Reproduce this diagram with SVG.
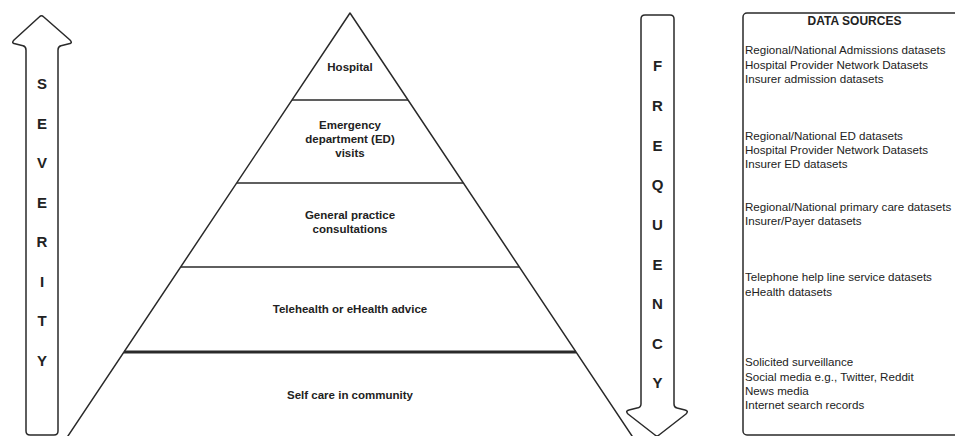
<svg xmlns="http://www.w3.org/2000/svg" width="955" height="436" viewBox="0 0 955 436">
<style>
.shape{fill:none;stroke:#2a2a2a;stroke-width:1.5;stroke-linejoin:round}
.lvl{stroke:#2a2a2a;stroke-width:1.5}
.lbl{font-family:"Liberation Sans",Arial,sans-serif;font-weight:bold;font-size:11.5px;fill:#222;text-anchor:middle}
.big{font-family:"Liberation Sans",Arial,sans-serif;font-weight:bold;font-size:15px;fill:#222;text-anchor:middle}
.src{font-family:"Liberation Sans",Arial,sans-serif;font-size:11.6px;fill:#222}
.hdr{font-family:"Liberation Sans",Arial,sans-serif;font-weight:bold;font-size:12px;fill:#222;text-anchor:middle}
</style>
<rect width="955" height="436" fill="#fff"/>
<g id="severity">
<path class="shape" d="M39.5 16.8 Q41.5 14.5 43.5 16.8 L70 40 Q73 43 69 43.8 L61 45.8 Q58 46.5 58 50 L58 431 Q58 435 54 435 L30 435 Q26 435 26 431 L26 50 Q26 46.5 23 45.8 L15 43.8 Q11 43 14 40 Z"/>
<text class="big" x="42" y="89">S</text>
<text class="big" x="42" y="129">E</text>
<text class="big" x="42" y="168">V</text>
<text class="big" x="42" y="208">E</text>
<text class="big" x="42" y="247">R</text>
<text class="big" x="42" y="287">I</text>
<text class="big" x="42" y="326">T</text>
<text class="big" x="42" y="366">Y</text>
</g>
<g id="pyramid">
<polyline class="shape" points="63.3,443 350,13 636.7,443"/>
</g>
<g id="level-hospital">
<line class="lvl" x1="292" y1="100" x2="408" y2="100"/>
<text class="lbl" x="350" y="71">Hospital</text>
</g>
<g id="level-ed">
<line class="lvl" x1="237" y1="183" x2="463" y2="183"/>
<text class="lbl" x="350" y="129">Emergency</text>
<text class="lbl" x="350" y="143">department (ED)</text>
<text class="lbl" x="350" y="157">visits</text>
</g>
<g id="level-gp">
<line class="lvl" x1="181" y1="267" x2="519" y2="267"/>
<text class="lbl" x="350" y="219">General practice</text>
<text class="lbl" x="350" y="233">consultations</text>
</g>
<g id="level-telehealth">
<line class="lvl" x1="124" y1="352" x2="576" y2="352" style="stroke-width:3"/>
<text class="lbl" x="350" y="313">Telehealth or eHealth advice</text>
</g>
<g id="level-selfcare">
<text class="lbl" x="350" y="398.5">Self care in community</text>
</g>
<g id="frequency">
<path class="shape" d="M645 15 L670 15 Q674 15 674 19 L674 404 Q674 407.5 677 408 L685 410 Q689 411 686 414 L659 435 Q657 437 655 435 L628 414 Q625 411 629 410 L637 408 Q641 407.5 641 404 L641 19 Q641 15 645 15 Z"/>
<text class="big" x="657.5" y="71">F</text>
<text class="big" x="657.5" y="111">R</text>
<text class="big" x="657.5" y="151">E</text>
<text class="big" x="657.5" y="190">Q</text>
<text class="big" x="657.5" y="230">U</text>
<text class="big" x="657.5" y="270">E</text>
<text class="big" x="657.5" y="309">N</text>
<text class="big" x="657.5" y="349">C</text>
<text class="big" x="657.5" y="388">Y</text>
</g>
<g id="data-sources">
<rect class="shape" x="743" y="13" width="225" height="422" rx="4"/>
<text class="hdr" x="854.5" y="25">DATA SOURCES</text>
<text class="src" x="745" y="54">Regional/National Admissions datasets</text>
<text class="src" x="745" y="68.5">Hospital Provider Network Datasets</text>
<text class="src" x="745" y="83">Insurer admission datasets</text>
<text class="src" x="745" y="139.5">Regional/National ED datasets</text>
<text class="src" x="745" y="154">Hospital Provider Network Datasets</text>
<text class="src" x="745" y="168">Insurer ED datasets</text>
<text class="src" x="745" y="210.5">Regional/National primary care datasets</text>
<text class="src" x="745" y="224.5">Insurer/Payer datasets</text>
<text class="src" x="745" y="281">Telephone help line service datasets</text>
<text class="src" x="745" y="296">eHealth datasets</text>
<text class="src" x="745" y="366">Solicited surveillance</text>
<text class="src" x="745" y="380.5">Social media e.g., Twitter, Reddit</text>
<text class="src" x="745" y="394.5">News media</text>
<text class="src" x="745" y="408.5">Internet search records</text>
</g>
</svg>
